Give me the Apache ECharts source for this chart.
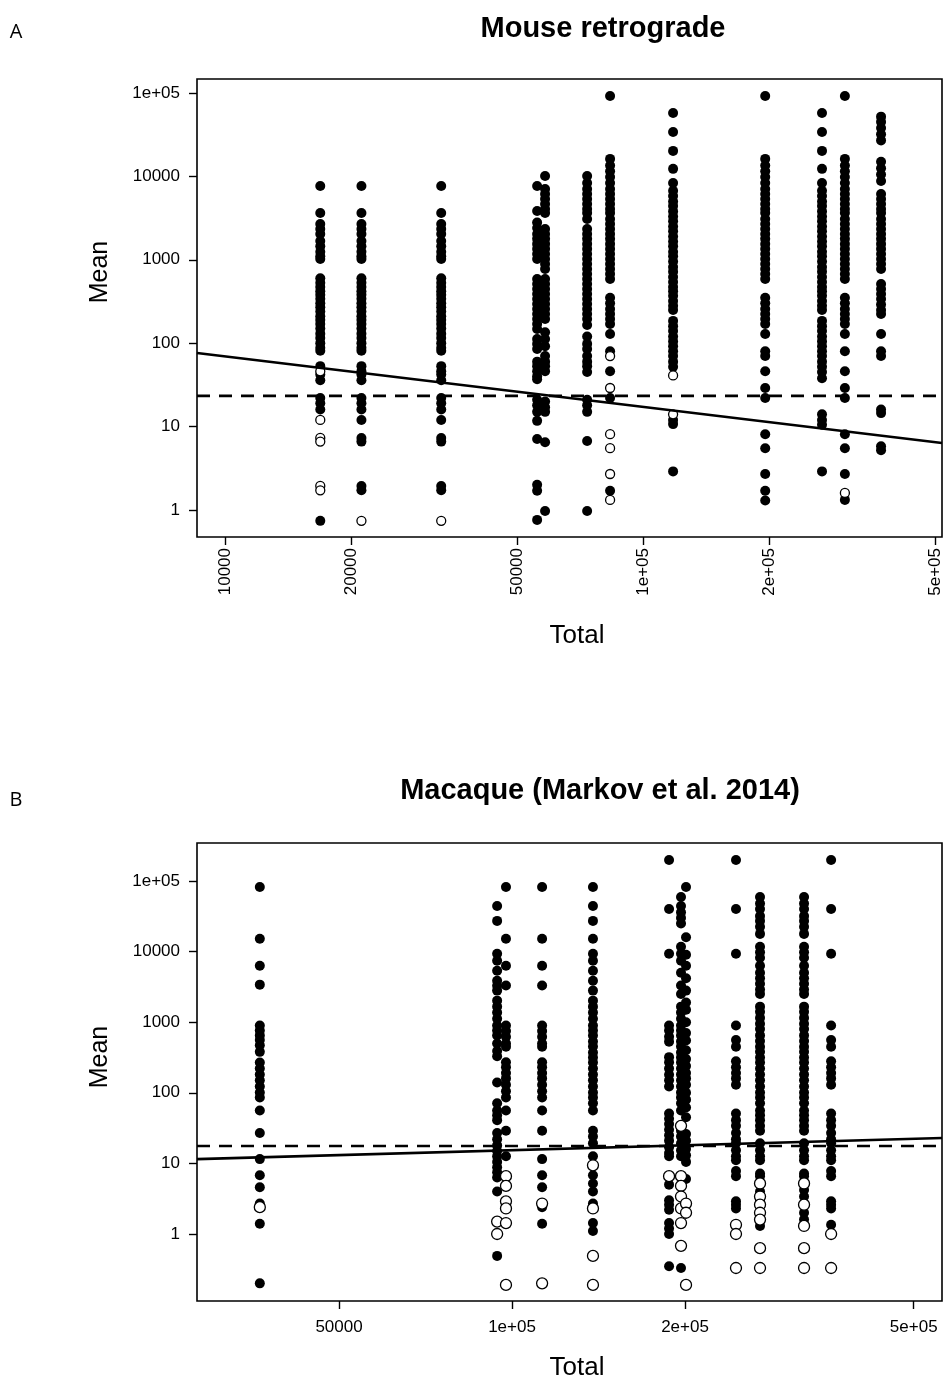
<!DOCTYPE html>
<html>
<head>
<meta charset="utf-8">
<script src="https://cdn.jsdelivr.net/npm/echarts@6/dist/echarts.min.js"></script>
<style>
html,body{margin:0;padding:0;background:#fff;}
#chart{width:948px;height:1385px;}
</style>
</head>
<body>
<div id="chart"></div>
<script>
// ---------- Panel A: Mouse retrograde ----------
const A_TOTALS = [16900, 21200, 32900, 55800, 58300, 73500, 83400, 118000, 196000, 268000, 304000, 371000];
const A_FILLED = [
  [7670, 3640, 2690, 2340, 2040, 1680, 1450, 1250, 1100, 1020, 600, 530, 470, 420, 380, 340, 300, 270, 240, 210, 190, 170, 150, 130, 115, 100, 88, 81, 53, 42, 36, 22, 19, 16, 0.74],
  [7670, 3640, 2690, 2340, 2040, 1680, 1450, 1250, 1100, 1020, 600, 530, 470, 420, 380, 340, 300, 270, 240, 210, 190, 170, 150, 130, 115, 100, 88, 81, 53, 46, 42, 36, 22, 19, 16, 12, 7.3, 6.6, 1.94, 1.72],
  [7670, 3640, 2690, 2340, 2040, 1680, 1450, 1250, 1100, 1020, 600, 530, 470, 420, 380, 340, 300, 270, 240, 210, 190, 170, 150, 130, 115, 100, 88, 81, 53, 46, 42, 36, 22, 19, 16, 12, 7.3, 6.6, 1.94, 1.72],
  [7670, 3850, 2800, 2400, 2040, 1780, 1550, 1350, 1170, 1020, 589, 513, 447, 389, 339, 295, 257, 224, 195, 170, 148, 112, 98, 85, 60, 53, 46, 40, 37, 21, 18, 15, 11.7, 7.1, 2.0, 1.7, 0.76],
  [10100, 7060, 6150, 5360, 4670, 4070, 3640, 2340, 2040, 1780, 1550, 1350, 1170, 1020, 891, 776, 589, 513, 447, 389, 339, 295, 257, 224, 195, 135, 112, 92, 70, 60, 53, 46, 20, 17, 15, 6.5, 0.97],
  [10100, 8340, 7060, 6150, 5360, 4670, 4070, 3640, 3080, 2340, 2040, 1780, 1550, 1350, 1170, 1020, 891, 776, 676, 589, 513, 447, 389, 339, 295, 257, 224, 195, 165, 120, 98, 85, 70, 60, 53, 45, 21, 18, 15, 6.7, 0.97],
  [92000, 16200, 13500, 11500, 9800, 8340, 7060, 6150, 5360, 4670, 4070, 3640, 3080, 2690, 2340, 2040, 1780, 1550, 1350, 1170, 1020, 891, 776, 676, 589, 350, 300, 257, 224, 195, 170, 129, 80, 46, 22, 1.7],
  [57500, 34000, 20200, 12300, 8340, 6700, 5800, 5000, 4400, 3800, 3300, 2900, 2500, 2200, 1900, 1650, 1450, 1250, 1100, 950, 820, 720, 620, 540, 470, 420, 370, 320, 280, 250, 185, 160, 140, 120, 105, 92, 80, 70, 60, 52, 12, 10.7, 2.9],
  [92000, 16200, 13500, 11500, 9800, 8340, 7060, 6150, 5360, 4670, 4070, 3640, 3080, 2690, 2340, 2040, 1780, 1550, 1350, 1170, 1020, 891, 776, 676, 589, 350, 300, 257, 224, 195, 170, 129, 80, 70, 46, 29, 22, 8.1, 5.5, 2.7, 1.7, 1.3],
  [57500, 34000, 20200, 12300, 8340, 6700, 5800, 5000, 4400, 3800, 3300, 2900, 2500, 2200, 1900, 1650, 1450, 1250, 1100, 950, 820, 720, 620, 540, 470, 420, 370, 320, 280, 250, 185, 160, 140, 120, 105, 92, 80, 70, 60, 52, 45, 38, 14, 12, 10.5, 2.9],
  [92000, 16200, 13500, 11500, 9800, 8340, 7060, 6150, 5360, 4670, 4070, 3640, 3080, 2690, 2340, 2040, 1780, 1550, 1350, 1170, 1020, 891, 776, 676, 589, 350, 300, 257, 224, 195, 170, 129, 80, 46, 29, 22, 8.1, 5.5, 2.7, 1.32],
  [52000, 45000, 38000, 32000, 27000, 15000, 12500, 10500, 8800, 6150, 5360, 4670, 4070, 3640, 3080, 2690, 2340, 2040, 1780, 1550, 1350, 1170, 1020, 891, 776, 513, 447, 389, 339, 290, 250, 224, 129, 80, 70, 16, 14.5, 5.8, 5.2]
];
const A_OPEN = [
  [46, 12, 7.3, 6.6, 1.94, 1.72],
  [0.74],
  [0.74],
  [], [], [],
  [70, 29, 8.1, 5.5, 2.7, 1.32],
  [41, 14],
  [], [],
  [1.6],
  []
];
const A_FIT = [[8570, 76.2], [519000, 6.35]];
const A_MEAN_LEVEL = 23.3;
const A_X_RANGE = [8570, 519000];
const A_Y_RANGE = [0.474, 147000];
const A_X_TICKS = [10000, 20000, 50000, 100000, 200000, 500000];
const A_X_LABELS = ['10000', '20000', '50000', '1e+05', '2e+05', '5e+05'];

// ---------- Panel B: Macaque (Markov et al. 2014) ----------
const B_TOTALS = [36400, 94200, 97600, 112800, 138300, 187600, 196800, 200800, 245300, 270100, 322200, 359100];
const B_FILLED = [
  [82200, 15200, 6300, 3400, 896, 761, 650, 560, 470, 380, 269, 221, 182, 150, 123, 101, 86, 56, 27, 11.5, 6.8, 4.6, 2.7, 1.4, 0.2],
  [44300, 27200, 9300, 7400, 5350, 3870, 3290, 2800, 2020, 1660, 1370, 1120, 896, 761, 647, 500, 390, 330, 140, 71, 56, 48, 41, 27, 22, 18, 15, 12.6, 10.5, 8.8, 7.5, 6.3, 4.0, 0.49],
  [82200, 15200, 6300, 3300, 900, 750, 620, 500, 450, 270, 230, 190, 160, 130, 105, 86, 56, 29, 12.6],
  [82200, 15200, 6300, 3300, 900, 750, 620, 500, 450, 270, 230, 190, 160, 130, 105, 86, 56, 29, 11.5, 6.8, 4.6, 2.4, 1.4],
  [82200, 44300, 27200, 15200, 9300, 7400, 5350, 3870, 2800, 2020, 1660, 1370, 1120, 896, 761, 647, 532, 452, 372, 316, 269, 221, 182, 150, 123, 101, 86, 71, 56, 29, 24, 19.3, 12.6, 6.8, 5.2, 4.0, 2.7, 1.43, 1.1],
  [198000, 40200, 9300, 896, 761, 620, 530, 320, 270, 220, 180, 150, 123, 51, 43, 36, 30, 25, 21, 17, 14, 12.6, 5.0, 3.0, 2.6, 2.2, 1.43, 1.2, 1.0, 0.35],
  [59400, 44300, 36000, 30000, 25000, 11700, 9300, 7400, 5000, 3300, 2500, 1660, 1370, 1120, 896, 761, 647, 532, 452, 372, 316, 269, 221, 182, 150, 123, 101, 86, 71, 56, 29, 24, 19.3, 15.3, 12.6, 0.33],
  [82200, 16000, 9000, 6300, 4200, 2800, 1900, 1500, 1000, 700, 550, 400, 300, 240, 190, 160, 130, 100, 80, 62, 45, 26, 21, 16, 13, 10.5, 6.0],
  [198000, 40200, 9300, 896, 560, 450, 280, 230, 190, 160, 130, 51, 41, 34, 27, 22, 19.3, 15.3, 12.6, 11.1, 7.8, 6.6, 2.9, 2.6, 2.3],
  [59400, 48000, 40000, 32000, 27200, 22400, 17800, 11700, 9800, 8200, 6300, 5000, 4200, 3500, 2900, 2500, 1660, 1400, 1150, 950, 800, 650, 540, 450, 380, 316, 269, 221, 182, 150, 123, 101, 86, 71, 56, 48, 41, 34, 29, 19.3, 15.3, 12.6, 11.1, 7.2, 6.6, 4.0, 2.9, 1.3],
  [59400, 48000, 40000, 32000, 27200, 22400, 17800, 11700, 9800, 8200, 6300, 5000, 4200, 3500, 2900, 2500, 1660, 1400, 1150, 950, 800, 650, 540, 450, 380, 316, 269, 221, 182, 150, 123, 101, 86, 71, 56, 48, 41, 34, 29, 19.3, 15.3, 12.6, 11.1, 7.2, 6.6, 4.2, 3.4, 2.0, 1.6],
  [198000, 40200, 9300, 896, 560, 450, 280, 230, 190, 160, 130, 51, 41, 34, 27, 22, 19.3, 15.3, 12.6, 11.1, 7.8, 6.6, 2.9, 2.6, 2.3, 1.35]
];
const B_OPEN = [
  [2.4],
  [1.5, 1.0],
  [6.6, 4.8, 2.9, 2.3, 1.43, 0.19],
  [2.7, 0.2],
  [9.4, 2.3, 0.49, 0.19],
  [6.6],
  [34, 6.6, 4.8, 3.4, 2.3, 1.43, 0.68],
  [2.7, 2.0, 0.19],
  [1.35, 1.0, 0.33],
  [5.2, 3.4, 2.6, 2.0, 1.6, 0.63, 0.33],
  [5.2, 2.6, 1.3, 0.63, 0.33],
  [1.0, 0.33]
];
const B_FIT = [[28300, 11.5], [560000, 22.9]];
const B_MEAN_LEVEL = 17.6;
const B_X_RANGE = [28300, 560000];
const B_Y_RANGE = [0.1125, 345000];
const B_X_TICKS = [50000, 100000, 200000, 500000];
const B_X_LABELS = ['50000', '1e+05', '2e+05', '5e+05'];

const Y_TICKS = [1, 10, 100, 1000, 10000, 100000];
const Y_LABELS = ['1', '10', '100', '1000', '10000', '1e+05'];

// ---------- helpers ----------
const L = Math.log10;
const FONT = 'Liberation Sans, Arial, Helvetica, sans-serif';

function pts(totals, lists) {
  const out = [];
  totals.forEach((t, i) => lists[i].forEach(v => out.push([L(t), L(v)])));
  return out;
}
function fmt(ticks, labels) {
  return function (v) {
    for (let i = 0; i < ticks.length; i++) {
      if (Math.abs(L(ticks[i]) - v) < 1e-6) return labels[i];
    }
    return '';
  };
}

const chart = echarts.init(document.getElementById('chart'), null, {renderer: 'canvas'});

const grids = [
  {left: 197, top: 79, width: 745, height: 458},
  {left: 197, top: 843, width: 745, height: 458}
].map(g => Object.assign(g, {show: true, borderColor: '#000', borderWidth: 1.6, backgroundColor: 'transparent', containLabel: false, outerBoundsMode: 'none'}));

function xAxis(idx, range, ticks, labels, rotate, margin) {
  return {
    type: 'value', gridIndex: idx, min: L(range[0]), max: L(range[1]), position: 'bottom',
    axisLine: {show: false, onZero: false},
    splitLine: {show: false},
    axisTick: {show: true, inside: false, length: 8, lineStyle: {color: '#000', width: 1.4}, customValues: ticks.map(L)},
    axisLabel: {show: true, rotate: rotate, margin: margin, color: '#000', fontFamily: FONT, fontSize: 17,
      customValues: ticks.map(L), formatter: fmt(ticks, labels), showMinLabel: true, showMaxLabel: true, hideOverlap: false}
  };
}
function yAxis(idx, range) {
  return {
    type: 'value', gridIndex: idx, min: L(range[0]), max: L(range[1]), position: 'left',
    axisLine: {show: false, onZero: false},
    splitLine: {show: false},
    axisTick: {show: true, inside: false, length: 8, lineStyle: {color: '#000', width: 1.4}, customValues: Y_TICKS.map(L)},
    axisLabel: {show: true, margin: 17, color: '#000', fontFamily: FONT, fontSize: 17,
      customValues: Y_TICKS.map(L), formatter: fmt(Y_TICKS, Y_LABELS), hideOverlap: false}
  };
}

function scatterFilled(idx, data) {
  return {type: 'scatter', xAxisIndex: idx, yAxisIndex: idx, data: data, symbol: 'circle', symbolSize: 10,
    itemStyle: {color: '#000', opacity: 1}, silent: true, z: 2, animation: false};
}
function scatterOpen(idx, data, size) {
  return {type: 'scatter', xAxisIndex: idx, yAxisIndex: idx, data: data, symbol: 'circle', symbolSize: size,
    itemStyle: {color: '#fff', borderColor: '#000', borderWidth: 1.3, opacity: 1}, silent: true, z: 3, animation: false};
}
function lineSeries(idx, data, dashed) {
  return {type: 'line', xAxisIndex: idx, yAxisIndex: idx, data: data, showSymbol: false, symbol: 'none',
    lineStyle: {color: '#000', width: 2.6, type: dashed ? [13, 9] : 'solid'}, silent: true, z: 4, animation: false, clip: true};
}

const texts = [
  {t: 'A', x: 16, y: 32, size: 20, bold: false, font: 'Open Sans, Noto Sans, sans-serif'},
  {t: 'B', x: 16, y: 800, size: 20, bold: false, font: 'Open Sans, Noto Sans, sans-serif'},
  {t: 'Mouse retrograde', x: 603, y: 29, size: 29, bold: true, font: FONT},
  {t: 'Macaque (Markov et al. 2014)', x: 600, y: 791, size: 29, bold: true, font: FONT},
  {t: 'Total', x: 577, y: 636, size: 26, bold: false, font: FONT},
  {t: 'Total', x: 577, y: 1368, size: 26, bold: false, font: FONT}
];
const graphics = texts.map(o => ({
  type: 'text', x: o.x, y: o.y, silent: true,
  style: {text: o.t, fill: '#000', font: (o.bold ? 'bold ' : '') + o.size + 'px ' + o.font, textAlign: 'center', textVerticalAlign: 'middle'}
}));
[[100, 272], [100, 1057]].forEach(p => graphics.push({
  type: 'text', x: p[0], y: p[1], rotation: Math.PI / 2, silent: true,
  style: {text: 'Mean', fill: '#000', font: '25px ' + FONT, textAlign: 'center', textVerticalAlign: 'middle'}
}));

const option = {
  backgroundColor: '#fff',
  animation: false,
  grid: grids,
  xAxis: [
    xAxis(0, A_X_RANGE, A_X_TICKS, A_X_LABELS, 90, 11),
    xAxis(1, B_X_RANGE, B_X_TICKS, B_X_LABELS, 0, 18)
  ],
  yAxis: [yAxis(0, A_Y_RANGE), yAxis(1, B_Y_RANGE)],
  series: [
    scatterFilled(0, pts(A_TOTALS, A_FILLED)),
    scatterOpen(0, pts(A_TOTALS, A_OPEN), 9),
    lineSeries(0, A_FIT.map(p => [L(p[0]), L(p[1])]), false),
    lineSeries(0, A_X_RANGE.map(x => [L(x), L(A_MEAN_LEVEL)]), true),
    scatterFilled(1, pts(B_TOTALS, B_FILLED)),
    scatterOpen(1, pts(B_TOTALS, B_OPEN), 11),
    lineSeries(1, B_FIT.map(p => [L(p[0]), L(p[1])]), false),
    lineSeries(1, B_X_RANGE.map(x => [L(x), L(B_MEAN_LEVEL)]), true)
  ],
  graphic: graphics
};
chart.setOption(option);
</script>
</body>
</html>
